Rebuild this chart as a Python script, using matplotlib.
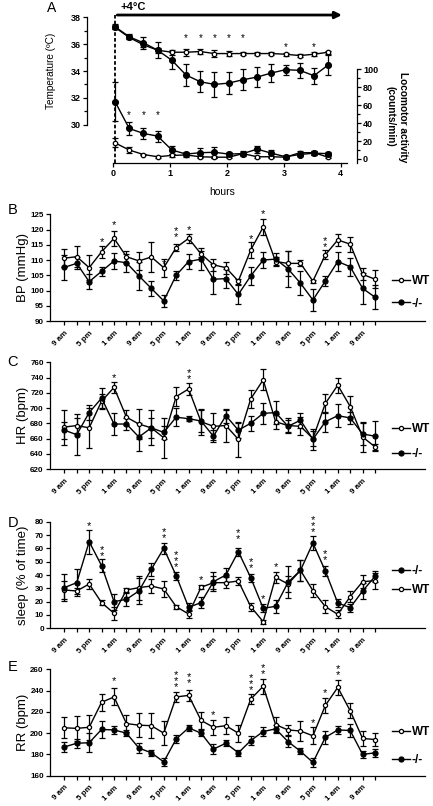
import matplotlib
matplotlib.use('Agg')
import matplotlib.pyplot as plt

plt.rcParams['font.family'] = ['Liberation Sans', 'DejaVu Sans']
plt.rcParams['font.weight'] = 'bold'
plt.rcParams['axes.linewidth'] = 0.9

W, H = 433, 806

# ---- panel A: cold exposure ----
hours = [0.03, 0.28, 0.53, 0.78, 1.03, 1.28, 1.53, 1.78, 2.03, 2.28, 2.53, 2.78, 3.03, 3.28, 3.53, 3.78]
wt_temp = [37.25, 36.5, 35.95, 35.55, 35.4, 35.4, 35.45, 35.3, 35.3, 35.3, 35.3, 35.3, 35.25, 35.15, 35.25, 35.4]
wt_temp_err = [0.15, 0.15, 0.15, 0.2, 0.2, 0.25, 0.2, 0.25, 0.2, 0.1, 0.1, 0.1, 0.1, 0.1, 0.15, 0.1]
ko_temp = [37.3, 36.55, 36.1, 35.55, 34.8, 33.7, 33.2, 33.0, 33.1, 33.35, 33.55, 33.85, 34.1, 34.05, 33.65, 34.45]
ko_temp_err = [0.2, 0.2, 0.45, 0.58, 0.63, 0.8, 0.78, 0.95, 0.82, 0.77, 0.77, 0.67, 0.37, 0.58, 0.58, 0.75]
wt_act = [18, 10, 5, 2.5, 4, 4.5, 2.5, 2, 2, 6, 2.5, 2.5, 2, 7, 7, 2]
wt_act_err = [5, 3, 1, 1, 2, 2, 1, 1, 1, 2, 1, 1, 1, 2, 2, 1]
ko_act = [64, 34, 28.5, 25.5, 10, 5.5, 7, 7.5, 5.5, 6, 11, 6.5, 2.5, 5, 6.5, 6]
ko_act_err = [22, 7, 6, 6, 4, 2, 5, 6, 2, 3, 4, 4, 2, 2, 2, 2]
temp_stars = [(5, 36.75), (6, 36.75), (7, 36.75), (8, 36.75), (9, 36.75), (12, 36.1), (14, 36.1)]
act_stars = [(1, 52.8), (2, 52.8), (3, 52.8)]

# ---- panels B-E: 4 h bins ----
tick_names = ['9 am', '5 pm', '1 am', '9 am', '5 pm', '1 am', '9 am', '5 pm', '1 am', '9 am', '5 pm', '1 am', '9 am']

bp_wt = [110.6, 111.1, 107.5, 112.7, 117.1, 111.1, 109.7, 111.0, 107.5, 114.1, 117.1, 112.0, 108.4, 107.5, 103.1, 113.3, 120.8, 109.5, 108.9, 108.9, 103.1, 111.7, 116.6, 115.2, 105.3, 103.7]
bp_wt_err = [3, 3.5, 4, 2, 2.5, 2, 3, 5, 3, 1, 1.5, 1, 2, 2, 0.8, 2.5, 2.5, 1.5, 4, 1, 0.5, 1.5, 2, 2.5, 2, 3]
bp_ko = [107.6, 108.9, 102.9, 106.3, 109.7, 109.1, 104.8, 100.7, 96.6, 105.0, 109.5, 110.3, 103.7, 103.9, 98.7, 104.8, 110.0, 110.3, 107.1, 102.4, 96.9, 103.1, 109.5, 107.8, 100.7, 97.8]
bp_ko_err = [4, 2, 2.5, 1.5, 2.5, 3, 4.5, 2.5, 2, 1.5, 2.5, 3.5, 5, 3, 3, 3, 2.5, 2, 6, 4, 3.5, 1.5, 3, 3, 5, 4]
bp_stars = [(3, 1, 117.1), (4, 1, 122.6), (8, 1, 110.0), (9, 2, 119.9), (10, 1, 121.0), (15, 1, 118.0), (16, 1, 126.4), (21, 2, 116.6)]

hr_wt = [675, 677, 674, 709, 727, 688, 679, 674, 661, 715, 725, 682, 676, 677, 659, 712, 737, 682, 677, 676, 660, 706, 730, 702, 662, 649]
hr_wt_err = [23, 10, 26, 10, 7, 10, 20, 23, 26, 12, 8, 17, 18, 21, 23, 12, 14, 10, 10, 12, 10, 13, 10, 14, 20, 4]
hr_ko = [671, 665, 694, 713, 679, 679, 662, 674, 668, 688, 686, 683, 663, 690, 671, 680, 693, 694, 676, 684, 659, 682, 690, 687, 666, 663]
hr_ko_err = [11, 27, 10, 13, 14, 8, 18, 13, 8, 12, 3, 15, 8, 9, 10, 10, 14, 15, 8, 10, 14, 13, 15, 8, 15, 20]
hr_stars = [(4, 1, 744.6), (10, 2, 746.8)]

sl_wt = [28.75, 28, 33.25, 19.25, 11.25, 28.75, 30.5, 31.75, 29.5, 16.25, 10.75, 30.75, 34.25, 34.25, 35.5, 16.25, 5, 38.25, 33.25, 43.5, 28.25, 16.25, 10.5, 23.75, 35, 35.75]
sl_wt_err = [7, 2, 4, 2, 5, 1.5, 9, 5, 6, 1.5, 3, 1.5, 5, 4, 3, 3, 1.5, 4, 6, 8, 5, 5, 3, 4, 5, 6]
sl_ko = [30.5, 34.25, 65, 47, 20, 21.75, 28, 44.25, 60, 39.5, 15.75, 19.25, 35, 40, 57.5, 38, 15, 16.5, 34.5, 43.5, 64, 43, 19, 15.5, 28, 39]
sl_ko_err = [10, 10, 9, 5, 6, 5, 10, 5, 4, 3, 3, 4, 7, 5, 3, 3, 3, 5, 12, 8, 5, 4, 3, 3, 6, 4]
sl_stars = [(2, 1, 80), (3, 2, 59.4), (8, 2, 73.25), (9, 3, 53), (11, 1, 39.25), (14, 2, 72), (15, 2, 50), (16, 1, 24.75), (17, 1, 48.75), (20, 3, 80), (21, 2, 56.25)]

rr_wt = [205, 204.5, 205.5, 229, 234, 209, 207.5, 207, 200, 234, 235.5, 212, 205.5, 207, 200, 232, 244, 208, 203, 202, 197.5, 226, 243, 221, 195, 194]
rr_wt_err = [10, 12, 12, 8, 8, 8, 11, 12, 11, 5, 5, 8, 7, 8, 8, 5, 7, 7, 5, 9, 8, 7, 7, 7, 7, 6]
rr_ko = [187, 190.5, 191, 203.5, 203, 200, 186, 181.5, 173, 194.5, 205, 200, 185, 190.5, 181.5, 193, 201.5, 204, 192, 183, 172.5, 196, 203, 202.5, 180, 181.5]
rr_ko_err = [5, 4, 9, 8, 4, 3, 5, 3, 4, 4, 3, 3, 5, 3, 3, 4, 4, 4, 5, 3, 4, 6, 4, 6, 3, 4]
rr_stars = [(4, 1, 252.5), (9, 3, 252.5), (10, 2, 253.1), (12, 1, 221.1), (15, 3, 250), (16, 2, 261.6), (20, 1, 213), (21, 1, 241.2), (22, 2, 261)]


def px_axes(fig, left, top, right, bottom):
    return fig.add_axes([left / W, 1 - bottom / H, (right - left) / W, (bottom - top) / H])


def series(ax, x, y, err, filled, ms, label=None):
    return ax.errorbar(x, y, yerr=err, color='black', lw=1.0, elinewidth=0.9,
                       capsize=2.2, capthick=0.9, marker='o', ms=ms,
                       mfc='black' if filled else 'white', mec='black', mew=0.9,
                       label=label, clip_on=False)


def stars(ax, items, fs=8):
    for x, n, y in items:
        ax.annotate('\n'.join(['*'] * n), (x, y), xytext=(0, -2.8), textcoords='offset points',
                    ha='center', va='center', fontsize=fs, fontweight='normal',
                    linespacing=0.5, annotation_clip=False)


fig = plt.figure(figsize=(W / 100, H / 100), dpi=100)

# ---------------- panel A ----------------
x0, px_hr = 113.3, 56.85
axA = px_axes(fig, 87, 17.3, 356.7, 163)
axA.set_xlim((87 - x0) / px_hr, (356.7 - x0) / px_hr)
axA.set_ylim(27.15, 38)
for s in ['top', 'right']:
    axA.spines[s].set_visible(False)
axA.spines['left'].set_bounds(30, 38)
axA.spines['bottom'].set_bounds(0, 4.11)
axA.set_yticks([30, 32, 34, 36, 38])
axA.set_yticks([31, 33, 35, 37], minor=True)
axA.set_xticks([0, 1, 2, 3, 4])
axA.tick_params(labelsize=6.5, width=0.9, length=3, pad=1.5)
axA.tick_params(which='minor', width=0.9, length=2)
axA.set_ylabel('Temperature (ºC)', fontsize=7.2)
axA.yaxis.set_label_coords(-0.115, 0.63)
axA.set_xlabel('hours', fontsize=7.5, labelpad=6)

axA2 = axA.twinx()
axA2.set_ylim(-4.46, 157.96)
for s in ['top', 'left', 'bottom']:
    axA2.spines[s].set_visible(False)
axA2.spines['right'].set_bounds(-4.46, 100)
axA2.set_yticks([0, 20, 40, 60, 80, 100])
axA2.set_yticks([10, 30, 50, 70, 90], minor=True)
axA2.tick_params(labelsize=6.5, width=0.9, length=3, pad=1.5)
axA2.tick_params(which='minor', width=0.9, length=2)

axA.plot([hours[0], hours[0]], [27.15, 38.17], color='black', lw=1.3, ls=(0, (2, 1.2)), clip_on=False)
axA.annotate('', xy=(4.07, 38.17), xytext=(hours[0] - 0.01, 38.17),
             arrowprops=dict(arrowstyle='-|>', color='black', lw=2, mutation_scale=10),
             annotation_clip=False)
axA.text(0.12, 38.75, '+4°C', fontsize=8, ha='left', va='center')

series(axA, hours, wt_temp, wt_temp_err, False, 3.2)
series(axA, hours, ko_temp, ko_temp_err, True, 4.2)
series(axA2, hours, wt_act, wt_act_err, False, 3.2)
series(axA2, hours, ko_act, ko_act_err, True, 4.2)
stars(axA, [(hours[i], 1, y) for i, y in temp_stars], fs=7)
stars(axA2, [(hours[i], 1, y) for i, y in act_stars], fs=7)

fig.text(397 / W, 1 - 116.7 / H, 'Locomotor activity\n(counts/min)', rotation=-90,
         ha='center', va='center', fontsize=7.3, linespacing=1.25)
fig.text(52 / W, 1 - 8 / H, 'A', fontsize=10, fontweight='normal', ha='center', va='center')

# ---------------- panels B-E ----------------
ix0, ix_px = 64.3, 12.43
panels = [
    ('B', 214.3, 321, (90, 125), range(90, 126, 5), 'BP (mmHg)', bp_wt, bp_wt_err, bp_ko, bp_ko_err, bp_stars, True, 292.5, 0.85, 210),
    ('C', 362.3, 469, (620, 760), range(620, 761, 20), 'HR (bpm)', hr_wt, hr_wt_err, hr_ko, hr_ko_err, hr_stars, True, 441.5, 1.05, 362),
    ('D', 521.7, 628.3, (0, 80), range(0, 81, 10), 'sleep (% of time)', sl_wt, sl_wt_err, sl_ko, sl_ko_err, sl_stars, False, 580.5, 0.55, 523),
    ('E', 669.3, 775.7, (160, 260), range(160, 261, 20), 'RR (bpm)', rr_wt, rr_wt_err, rr_ko, rr_ko_err, rr_stars, True, 746, 1.35, 667),
]

for (letter, top, bottom, ylim, yt, ylabel, wt, wt_err, ko, ko_err, st, wt_first,
     leg_y, leg_sp, let_y) in panels:
    ax = px_axes(fig, 50, top, 425, bottom)
    ax.set_xlim((50 - ix0) / ix_px, (425 - ix0) / ix_px)
    ax.set_ylim(*ylim)
    for s in ['top', 'right']:
        ax.spines[s].set_visible(False)
    ax.set_yticks(list(yt))
    n = len(wt)
    ax.set_xticks(range(n))
    ax.set_xticklabels([tick_names[i // 2] if i % 2 == 0 else '' for i in range(n)],
                       rotation=45, ha='right', rotation_mode='anchor')
    ax.tick_params(labelsize=5.8, width=0.9, length=3, pad=1.5)
    ax.tick_params(axis='x', pad=3)
    ax.set_ylabel(ylabel, fontsize=9.5)
    ax.yaxis.set_label_coords(-0.072, 0.5)
    ax.yaxis.label.set_va('center')

    h_wt = series(ax, range(n), wt, wt_err, False, 3.0, 'WT')
    h_ko = series(ax, range(n), ko, ko_err, True, 3.6, '-/-')
    stars(ax, st)

    handles = [h_wt[0], h_ko[0]] if wt_first else [h_ko[0], h_wt[0]]
    labels = ['WT', '-/-'] if wt_first else ['-/-', 'WT']
    ax.legend(handles, labels, loc='center left', bbox_to_anchor=(386 / W, 1 - leg_y / H),
              bbox_transform=fig.transFigure, frameon=False, fontsize=8.5,
              handlelength=1.5, handletextpad=0.2, borderpad=0, labelspacing=leg_sp)
    fig.text(13 / W, 1 - let_y / H, letter, fontsize=10.5, fontweight='normal',
             ha='center', va='center')

fig.savefig('out.png', dpi=100)
